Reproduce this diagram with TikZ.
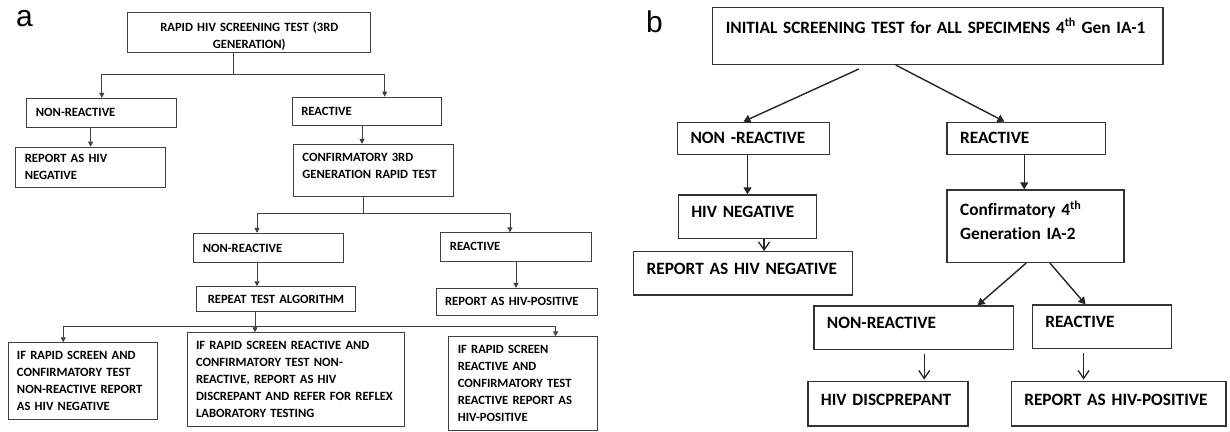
\documentclass[tikz,border=0pt]{standalone}
\usepackage{fontspec}
\setmainfont{Carlito}[Ligatures=NoCommon]
\newfontfamily\labelfont{Liberation Sans}
\usetikzlibrary{arrows.meta}

\begin{document}
\begin{tikzpicture}[x=1pt, y=-1pt,
    abox/.style={draw=black!75, line width=0.9pt, font=\bfseries\fontsize{12.6}{17}\selectfont, align=left, inner xsep=9pt, inner ysep=2pt},
    bbox/.style={draw=black!80, line width=1.4pt, font=\bfseries\fontsize{17.3}{23.5}\selectfont, align=left, inner xsep=13pt, inner ysep=2pt},
    aline/.style={draw=black!75, line width=0.9pt},
    alink/.style={aline, -{Triangle[length=5pt,width=5pt]}},
    blink/.style={draw=black!85, line width=1.4pt, -{Triangle[length=7pt,width=8pt]}},
    bopen/.style={draw=black!85, line width=1.3pt, -{Straight Barb[length=8pt,width=11pt]}},
    tag/.style={font=\labelfont\fontsize{30}{30}\selectfont, anchor=base west, inner sep=0pt}]
    \useasboundingbox (0,0) rectangle (1230,431);

    % panel a
    \begin{scope}
        \node[tag] (pa) at (16,27) {a};
        \node[abox, align=center, text width=225.2pt, minimum height=40.4pt, text depth=11pt] (a0) at (249.3,32.5) {RAPID HIV SCREENING TEST (3RD\\GENERATION)};
        \node[abox, text width=131.8pt, minimum height=28.7pt] (a1) at (101.8,112.7) {NON-REACTIVE};
        \node[abox, text width=131.5pt, minimum height=40.7pt] (a2) at (90.6,167.4) {REPORT AS HIV\\NEGATIVE};
        \node[abox, text width=131.5pt, minimum height=28.7pt] (a3) at (367,111.4) {REACTIVE};
        \node[abox, text width=142.1pt, minimum height=51.7pt, text depth=25pt] (a4) at (373.5,170.2) {CONFIRMATORY 3RD\\GENERATION RAPID TEST};
        \node[abox, text width=131.5pt, minimum height=29.4pt] (a5) at (268.5,248) {NON-REACTIVE};
        \node[abox, text width=132.2pt, minimum height=28.3pt] (a6) at (516,246.9) {REACTIVE};
        \node[abox, align=center, text width=141.8pt, minimum height=25pt] (a7) at (276,299.2) {REPEAT TEST ALGORITHM};
        \node[abox, text width=143pt, minimum height=26.7pt] (a8) at (516.6,301.7) {REPORT AS HIV-POSITIVE};
        \node[abox, text width=131.5pt, minimum height=76.6pt] (a9) at (82.7,381) {IF RAPID SCREEN AND\\CONFIRMATORY TEST\\NON-REACTIVE REPORT\\AS HIV NEGATIVE};
        \node[abox, text width=199.1pt, minimum height=94pt] (a10) at (295.6,379.7) {IF RAPID SCREEN REACTIVE AND\\CONFIRMATORY TEST NON-\\REACTIVE, REPORT AS HIV\\DISCREPANT AND REFER FOR REFLEX\\LABORATORY TESTING};
        \node[abox, text width=130.3pt, minimum height=93.3pt] (a11) at (523,383.4) {IF RAPID SCREEN\\REACTIVE AND\\CONFIRMATORY TEST\\REACTIVE REPORT AS\\HIV-POSITIVE};

        \coordinate (a0j) at (233.3,74);
        \draw[aline] (a0.south -| a0j) -- (a0j);
        \draw[alink] (a0j) -| (a1.north);
        \draw[alink] (a0j) -| ([xshift=17.7pt]a3.north);
        \draw[alink] (a1.south -| a2.north) -- (a2.north);
        \draw[alink] ([xshift=-5pt]a3.south) -- ([xshift=-5pt]a3.south |- a4.north);
        \coordinate (a4j) at (363,213.3);
        \draw[aline] (a4.south -| a4j) -- (a4j);
        \draw[alink] (a4j) -| ([xshift=-11.5pt]a5.north);
        \draw[alink] (a4j) -| ([xshift=-6pt]a6.north);
        \draw[alink] ([xshift=-11.5pt]a5.south) -- ([xshift=-11.5pt]a5.south |- a7.north);
        \draw[alink] (a6.south) -- (a6.south |- a8.north);
        \coordinate (a7j) at (255,326.7);
        \draw[aline] (a7.south -| a7j) -- (a7j);
        \draw[alink] (a7j) -| ([xshift=-19.4pt]a9.north);
        \draw[alink] (a7j) -- (a7j |- a10.north);
        \draw[alink] (a7j) -| ([xshift=32.6pt]a11.north);
    \end{scope}

    % panel b
    \begin{scope}
        \node[tag] (pb) at (646,32) {b};
        \node[bbox, text width=424.3pt, minimum height=57pt, text depth=20pt] (b0) at (937.9,35.8) {INITIAL SCREENING TEST for ALL SPECIMENS 4\textsuperscript{th} Gen IA-1};
        \node[bbox, text width=125.8pt, minimum height=32pt] (b1) at (753.4,138.3) {NON -REACTIVE};
        \node[bbox, text width=132.2pt, minimum height=32pt] (b2) at (1026.2,138.3) {REACTIVE};
        \node[bbox, text width=112.4pt, minimum height=43.3pt, text depth=9pt] (b3) at (747.5,216.7) {HIV NEGATIVE};
        \node[bbox, text width=150.8pt, minimum height=72.3pt, text depth=35.5pt] (b4) at (1035.5,226.2) {Confirmatory 4\textsuperscript{th}\\Generation IA-2};
        \node[bbox, text width=192.6pt, minimum height=43.3pt, text depth=9pt] (b5) at (742.9,273.4) {REPORT AS HIV NEGATIVE};
        \node[bbox, text width=173.7pt, minimum height=43.3pt, text depth=9pt] (b6) at (913.8,327.7) {NON-REACTIVE};
        \node[bbox, text width=113.5pt, minimum height=43.3pt, text depth=9pt] (b7) at (1102,326.7) {REACTIVE};
        \node[bbox, text width=134.1pt, minimum height=44.3pt, text depth=9pt] (b8) at (888,403.9) {HIV DISCPREPANT};
        \node[bbox, text width=188.7pt, minimum height=44.3pt, text depth=9pt] (b9) at (1118.6,403.9) {REPORT AS HIV-POSITIVE};

        \draw[blink] ([xshift=-79pt,yshift=-4pt]b0.south) -- ([xshift=-10pt]b1.north);
        \draw[blink] ([xshift=-42.2pt]b0.south) -- ([xshift=-21.7pt]b2.north);
        \draw[blink] (b1.south -| b3.north) -- (b3.north);
        \draw[blink] ([xshift=-2pt]b2.south) -- ([xshift=-2pt]b2.south |- b4.north);
        \draw[bopen] ([xshift=16.6pt]b3.south) -- ([xshift=16.6pt]b3.south |- b5.north);
        \draw[blink] ([xshift=-9.3pt]b4.south) -- ([xshift=63.8pt]b6.north);
        \draw[blink] ([xshift=14.4pt]b4.south) -- ([xshift=-16.5pt]b7.north);
        \draw[bopen, shorten >=1.5pt] ([xshift=10.4pt,yshift=-4pt]b6.south) -- ([xshift=10.4pt]b6.south |- b8.north);
        \draw[bopen, shorten >=1.5pt] ([xshift=-18.4pt,yshift=-4pt]b7.south) -- ([xshift=-18.4pt]b7.south |- b9.north);
    \end{scope}
\end{tikzpicture}
\end{document}
